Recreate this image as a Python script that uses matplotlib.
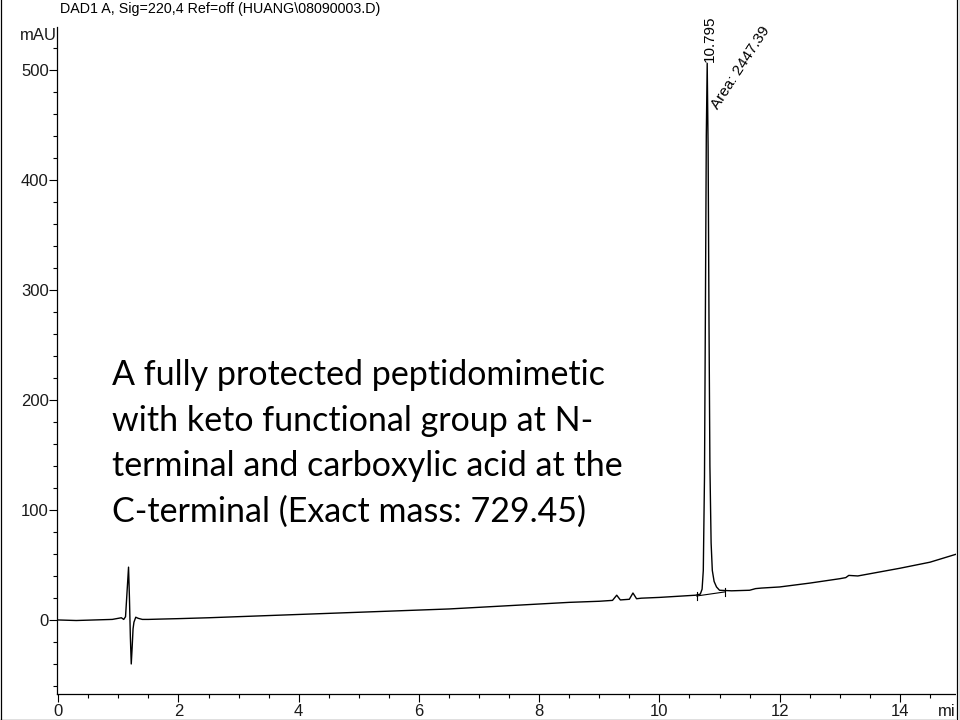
import matplotlib.pyplot as plt
from matplotlib.lines import Line2D
from matplotlib.patches import Rectangle
from matplotlib.ticker import MultipleLocator

# chromatogram trace (time in min, signal in mAU)
time_min = [0.0, 0.3, 0.6, 0.9, 1.05, 1.09, 1.12, 1.15, 1.17, 1.185, 1.2, 1.215,
            1.23, 1.245, 1.26, 1.29, 1.33, 1.4, 1.5, 1.7, 2.0, 2.5, 3.0, 3.5,
            4.0, 4.5, 5.0, 5.5, 6.0, 6.5, 7.0, 7.5, 8.0, 8.5, 9.0, 9.22, 9.29,
            9.35, 9.5, 9.56, 9.62, 9.7, 10.0, 10.3, 10.6, 10.68, 10.71, 10.73,
            10.75, 10.765, 10.78, 10.795, 10.81, 10.825, 10.84, 10.86, 10.88,
            10.91, 10.95, 11.0, 11.2, 11.5, 11.6, 11.7, 12.0, 12.5, 13.0, 13.1,
            13.15, 13.3, 13.5, 14.0, 14.5, 14.95]
signal_mau = [0.0, -0.5, 0.0, 0.5, 2.0, 0.5, 3.0, 30.0, 48.0, 20.0, -15.0, -40.0,
              -25.0, -8.0, -2.0, 2.5, 1.5, 0.5, 0.5, 0.8, 1.2, 2.0, 3.0, 4.0,
              5.0, 6.0, 7.0, 8.0, 9.0, 10.0, 11.5, 13.0, 14.5, 16.0, 17.0, 17.8,
              22.5, 18.2, 18.8, 24.5, 19.3, 19.8, 20.5, 21.5, 22.5, 23.5, 28.0, 45.0,
              130.0, 280.0, 440.0, 506.0, 430.0, 270.0, 140.0, 70.0, 45.0,
              35.0, 30.0, 27.0, 26.5, 27.0, 28.5, 29.0, 30.0, 33.5, 37.5, 38.5,
              40.5, 40.0, 42.0, 47.0, 52.5, 60.0]

# integration baseline of the main peak
base_t = [10.62, 11.09]
base_y = [21.8, 25.5]

peak_rt = 10.795
peak_height = 506
peak_area = 2447.39

note = ("A fully protected peptidomimetic\n"
        "with keto functional group at N-\n"
        "terminal and carboxylic acid at the\n"
        "C-terminal (Exact mass: 729.45)")

plt.rcParams['font.family'] = ['Liberation Sans', 'DejaVu Sans']

fig = plt.figure(figsize=(9.6, 7.2), dpi=100)
ax = fig.add_axes([57 / 960, 26 / 720, 900 / 960, 667 / 720])

ax.plot(time_min, signal_mau, color='black', lw=1.0)
ax.plot(base_t, base_y, color='black', lw=0.8)
for bt, by in zip(base_t, base_y):
    ax.plot([bt, bt], [by - 4, by + 4], color='black', lw=0.8)

ax.set_xlim(-0.02, 14.95)
ax.set_ylim(-67.3, 539)

ax.xaxis.set_major_locator(MultipleLocator(2))
ax.xaxis.set_minor_locator(MultipleLocator(0.5))
ax.yaxis.set_major_locator(MultipleLocator(100))
ax.yaxis.set_minor_locator(MultipleLocator(20))
ax.tick_params(which='major', length=6, width=0.8, labelsize=12, colors='black', labelcolor='#1a1a1a', pad=0)
ax.tick_params(axis='x', which='major', pad=1)
ax.tick_params(which='minor', length=3, width=0.8)

for side in ['top', 'right']:
    ax.spines[side].set_visible(False)
for side in ['left', 'bottom']:
    ax.spines[side].set_linewidth(0.9)

# peak labels
ax.text(peak_rt + 0.045, peak_height + 1, f"{peak_rt:.3f}", rotation=90,
        ha='left', va='center', fontsize=11, rotation_mode='anchor')
ax.text(peak_rt + 0.215, 462, f"Area: {peak_area}", rotation=57,
        ha='left', va='bottom', fontsize=11, rotation_mode='anchor')

ax.text(0.9, 237, note, fontsize=24.5, family=['Lato', 'DejaVu Sans'],
        ha='left', va='top', linespacing=1.52)

# header and axis unit labels
fig.text(60 / 960, 1 - 9 / 720, "DAD1 A, Sig=220,4 Ref=off (HUANG\\08090003.D)",
         fontsize=10.3, ha='left', va='center')
fig.text(57 / 960, 1 - 35 / 720, "mAU", fontsize=12, ha='right', va='center', color='#1a1a1a')
fig.text(938 / 960, 1 - 711 / 720, "mi", fontsize=12, ha='left', va='center', color='#1a1a1a')

# page frame
fig.patches.append(Rectangle((956 / 960, 0), 4 / 960, 1, transform=fig.transFigure,
                             facecolor='white', edgecolor='none', zorder=5))
for xl in [956.5 / 960, 959.5 / 960]:
    fig.lines.append(Line2D([xl, xl], [0, 1], transform=fig.transFigure, color='black', lw=0.9, zorder=6))
fig.lines.append(Line2D([0.5 / 960, 0.5 / 960], [0, 1], transform=fig.transFigure, color='black', lw=0.9))
fig.lines.append(Line2D([0, 1], [0.5 / 720, 0.5 / 720], transform=fig.transFigure, color='black', lw=0.9))

fig.savefig('out.png', dpi=100)
